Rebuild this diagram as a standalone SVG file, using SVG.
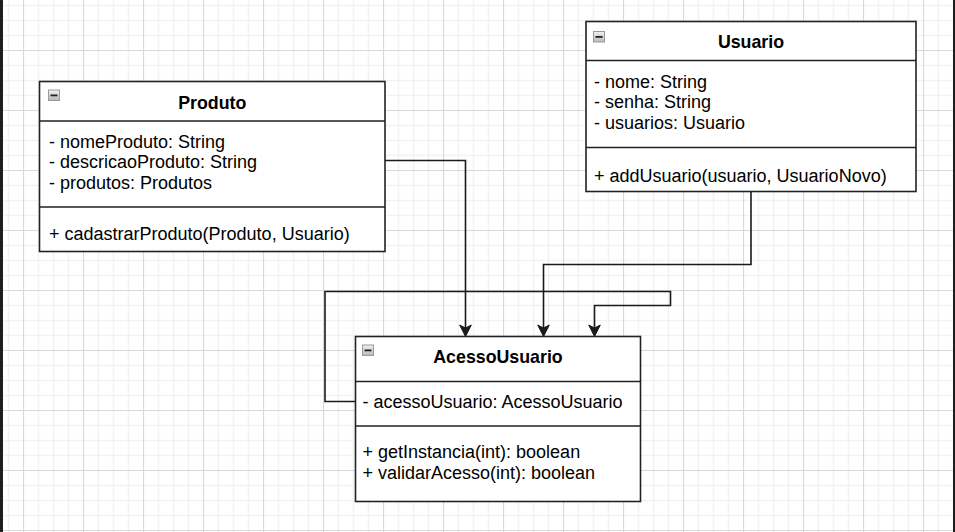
<svg xmlns="http://www.w3.org/2000/svg" width="955" height="532" viewBox="0 0 955 532">
<style>
.box{fill:#fff;stroke:#222;stroke-width:1.6}
.div{stroke:#222;stroke-width:1.6;fill:none}
.conn{fill:none;stroke:#1a1a1a;stroke-width:1.6}
.t{font-family:"Liberation Sans",Arial,sans-serif;font-size:18px;fill:#000}
.h{font-family:"Liberation Sans",Arial,sans-serif;font-size:17.8px;font-weight:bold;fill:#000;text-anchor:middle}
</style>
<defs>
<pattern id="grid" patternUnits="userSpaceOnUse" x="23" y="50" width="60" height="60">
<path d="M15.5,0V60M30.5,0V60M45.5,0V60M0,15.5H60M0,30.5H60M0,45.5H60" stroke="#f2f2f2" stroke-width="1.5" fill="none"/>
<path d="M0.5,0V60M0,0.5H60" stroke="#d8d8d8" stroke-width="1.2" fill="none"/>
</pattern>
<linearGradient id="ig" x1="0" y1="0" x2="0" y2="1">
<stop offset="0" stop-color="#f2f2f2"/>
<stop offset="1" stop-color="#b8b8b8"/>
</linearGradient>
<g id="icon">
<rect x="0.5" y="0.5" width="11" height="10.5" fill="url(#ig)" stroke="#9a9a9a" stroke-width="1"/>
<rect x="2.5" y="5" width="7" height="1.8" fill="#222"/>
</g>
<marker id="arr" markerUnits="userSpaceOnUse" viewBox="-13 -7 14 14" refX="-7.5" refY="0" markerWidth="14" markerHeight="14" orient="auto">
<path d="M0,0 L-11.5,-5.8 L-8.5,0 L-11.5,5.8 Z" fill="#1a1a1a" stroke="#1a1a1a" stroke-width="1"/>
</marker>
</defs>
<rect x="0" y="0" width="955" height="532" fill="#fff"/>
<rect x="0" y="0" width="955" height="532" fill="url(#grid)"/>
<rect x="0" y="0" width="3" height="532" fill="#1e1e1e"/>
<rect x="953" y="0" width="2" height="532" fill="#1e1e1e"/>

<g id="connectors">
<path class="conn" d="M385,160.5 H465.5 V329" marker-end="url(#arr)"/>
<path class="conn" d="M751,191.5 V264.5 H543.5 V329" marker-end="url(#arr)"/>
<path class="conn" d="M355.5,401.5 H325 V291.5 H670.5 V305.5 H594.5 V329" marker-end="url(#arr)"/>
</g>

<g id="produto">
<rect class="box" x="39.5" y="81.5" width="345.5" height="170"/>
<path class="div" d="M39.5,121H385M39.5,207H385"/>
<use href="#icon" x="48" y="89.5"/>
<text class="h" x="212.3" y="108.5">Produto</text>
<text class="t" x="49" y="147.5">- nomeProduto: String</text>
<text class="t" x="49" y="168">- descricaoProduto: String</text>
<text class="t" x="49" y="188.5">- produtos: Produtos</text>
<text class="t" x="49" y="240">+ cadastrarProduto(Produto, Usuario)</text>
</g>

<g id="usuario">
<rect class="box" x="586" y="21.5" width="330" height="170"/>
<path class="div" d="M586,60.5H916M586,147.5H916"/>
<use href="#icon" x="593" y="31"/>
<text class="h" x="751" y="47.8">Usuario</text>
<text class="t" x="594" y="87.6">- nome: String</text>
<text class="t" x="594" y="108.2">- senha: String</text>
<text class="t" x="594" y="129">- usuarios: Usuario</text>
<text class="t" x="594" y="181.6">+ addUsuario(usuario, UsuarioNovo)</text>
</g>

<g id="acessoUsuario">
<rect class="box" x="355.5" y="336.5" width="285" height="165"/>
<path class="div" d="M355.5,381.5H640.5M355.5,426H640.5"/>
<use href="#icon" x="362" y="344.5"/>
<text class="h" x="498" y="363.2">AcessoUsuario</text>
<text class="t" x="362.5" y="408.4">- acessoUsuario: AcessoUsuario</text>
<text class="t" x="362.5" y="458.4">+ getInstancia(int): boolean</text>
<text class="t" x="362.5" y="479">+ validarAcesso(int): boolean</text>
</g>
</svg>
